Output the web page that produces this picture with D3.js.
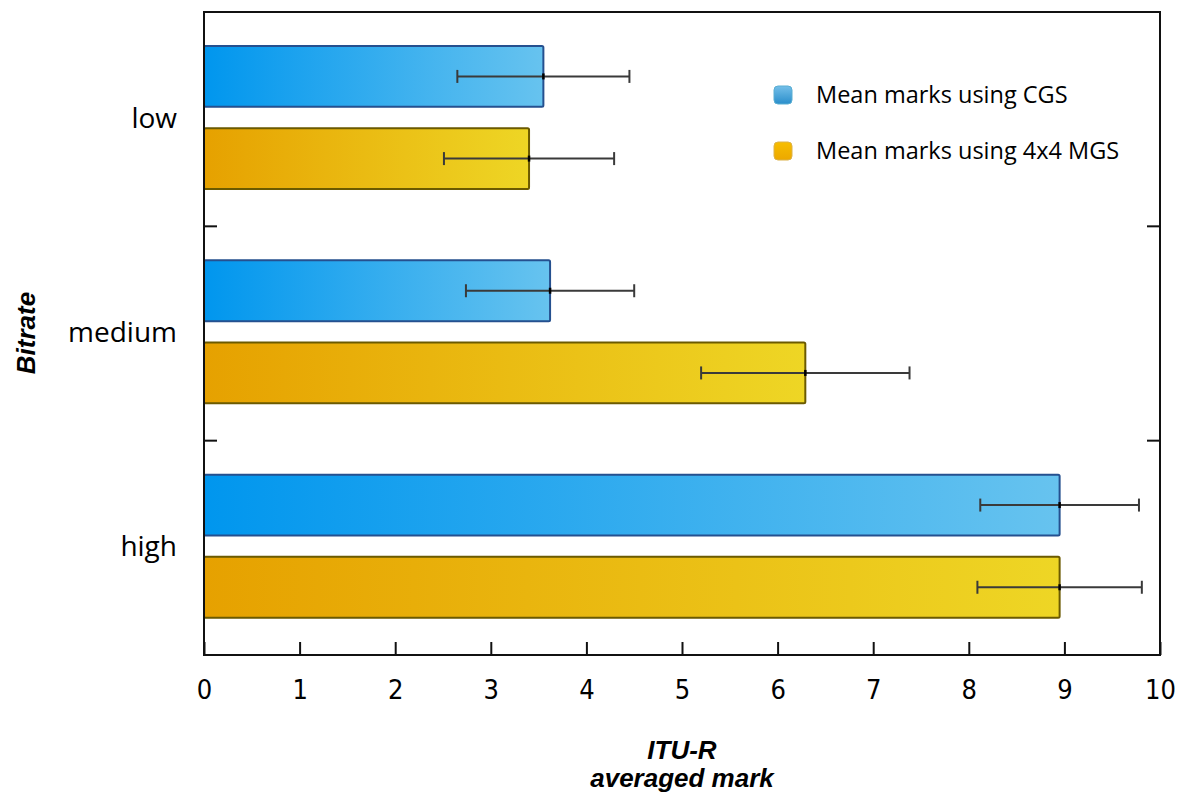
<!DOCTYPE html>
<html>
<head>
<meta charset="utf-8">
<script src="https://cdn.jsdelivr.net/npm/d3@7"></script>
<style>
  body { margin: 0; background: #fff; }
  svg { display: block; }
</style>
</head>
<body>
<svg id="chart" width="1190" height="808"></svg>
<script>
// data
const categories = ["low", "medium", "high"];
const seriesNames = ["Mean marks using CGS", "Mean marks using 4x4 MGS"];
const cgsMean = [3.55, 3.62, 8.95];
const cgsErr = [0.90, 0.88, 0.83];
const mgsMean = [3.40, 6.29, 8.95];
const mgsErr = [0.89, 1.09, 0.86];
const xTicks = [0, 1, 2, 3, 4, 5, 6, 7, 8, 9, 10];

const svg = d3.select("#chart");
const plotLeft = 204, plotRight = 1160, plotTop = 12, plotBottom = 655;

const x = d3.scaleLinear().domain([0, 10]).range([plotLeft, plotRight]);
const y = d3.scaleBand().domain(categories).range([plotTop, plotBottom]);
// offsets of the two bars inside a group
const ySub = d3.scaleBand().domain(["cgs", "mgs"]).range([34, 177]).paddingInner(0.26);

const rows = [];
categories.forEach((c, i) => {
  rows.push({cat: c, key: "cgs", mean: cgsMean[i], err: cgsErr[i]});
  rows.push({cat: c, key: "mgs", mean: mgsMean[i], err: mgsErr[i]});
});

const fills = {cgs: "url(#gBlue)", mgs: "url(#gYellow)"};
const strokes = {cgs: "#25508f", mgs: "#6b5a00"};

// gradients
const defs = svg.append("defs");
function grad(id, c0, c1, vertical) {
  const g = defs.append("linearGradient").attr("id", id)
    .attr("x1", 0).attr("y1", 0)
    .attr("x2", vertical ? 0 : 1).attr("y2", vertical ? 1 : 0);
  g.append("stop").attr("offset", "0%").attr("stop-color", c0);
  g.append("stop").attr("offset", "100%").attr("stop-color", c1);
}
grad("gBlue", "#0096ee", "#67c3ef", false);
grad("gYellow", "#e6a100", "#eed625", false);
grad("lBlue", "#74bfe9", "#2a8ecb", true);
grad("lYellow", "#f7be00", "#eca800", true);

// bars
svg.append("g").selectAll("rect")
  .data(rows)
  .join("rect")
  .attr("x", x(0))
  .attr("y", d => y(d.cat) + ySub(d.key))
  .attr("width", d => x(d.mean) - x(0))
  .attr("height", ySub.bandwidth())
  .attr("rx", 1.5)
  .attr("fill", d => fills[d.key])
  .attr("stroke", d => strokes[d.key])
  .attr("stroke-width", 2);

// error bars
const eb = svg.append("g").attr("stroke", "#3a3a3a").attr("stroke-width", 2);
rows.forEach(d => {
  const cy = y(d.cat) + ySub(d.key) + ySub.bandwidth() / 2;
  const x0 = x(d.mean - d.err), x1 = x(d.mean + d.err);
  eb.append("line").attr("x1", x0).attr("x2", x1).attr("y1", cy).attr("y2", cy);
  [x0, x1].forEach(xx => {
    eb.append("line").attr("x1", xx).attr("x2", xx).attr("y1", cy - 6.5).attr("y2", cy + 6.5);
  });
  eb.append("line").attr("x1", x(d.mean)).attr("x2", x(d.mean))
    .attr("y1", cy - 3).attr("y2", cy + 3).attr("stroke", "#000").attr("stroke-width", 2.5);
});

// frame
svg.append("rect")
  .attr("x", plotLeft).attr("y", plotTop)
  .attr("width", plotRight - plotLeft).attr("height", plotBottom - plotTop)
  .attr("fill", "none").attr("stroke", "#111").attr("stroke-width", 2);

// x axis with inward ticks
const xAxis = svg.append("g")
  .attr("transform", `translate(0,${plotBottom})`)
  .call(d3.axisBottom(x).tickValues(xTicks).tickSizeInner(-13).tickSizeOuter(0).tickPadding(25));
xAxis.select(".domain").remove();
xAxis.selectAll(".tick line").attr("stroke", "#111").attr("stroke-width", 2);
xAxis.selectAll(".tick text")
  .attr("font-family", "'Liberation Sans Narrow', 'DejaVu Sans Condensed', sans-serif")
  .attr("font-size", 27).attr("fill", "#000");

// group separators on left and right edges
const seps = categories.slice(1).map(c => y(c));
svg.append("g").selectAll("line").data(seps).join("line")
  .attr("x1", plotLeft).attr("x2", plotLeft + 13).attr("y1", d => d).attr("y2", d => d)
  .attr("stroke", "#111").attr("stroke-width", 2);
svg.append("g").selectAll("line").data(seps).join("line")
  .attr("x1", plotRight - 13).attr("x2", plotRight).attr("y1", d => d).attr("y2", d => d)
  .attr("stroke", "#111").attr("stroke-width", 2);

// category labels
svg.append("g").selectAll("text").data(categories).join("text")
  .attr("x", 177)
  .attr("y", d => y(d) + y.bandwidth() / 2)
  .attr("dy", "0.3em")
  .attr("text-anchor", "end")
  .attr("font-family", "'Open Sans', sans-serif")
  .attr("font-size", 28)
  .attr("fill", "#000")
  .text(d => d);

// axis titles
const titleFont = "'Liberation Sans', Arial, sans-serif";
svg.append("text")
  .attr("x", (plotLeft + plotRight) / 2).attr("y", 759)
  .attr("text-anchor", "middle")
  .attr("font-family", titleFont).attr("font-size", 26)
  .attr("font-weight", "bold").attr("font-style", "italic")
  .text("ITU-R");
svg.append("text")
  .attr("x", (plotLeft + plotRight) / 2).attr("y", 787)
  .attr("text-anchor", "middle")
  .attr("font-family", titleFont).attr("font-size", 26)
  .attr("font-weight", "bold").attr("font-style", "italic")
  .text("averaged mark");
svg.append("text")
  .attr("transform", "translate(35,333) rotate(-90)")
  .attr("text-anchor", "middle")
  .attr("font-family", titleFont).attr("font-size", 26)
  .attr("font-weight", "bold").attr("font-style", "italic")
  .text("Bitrate");

// legend
const legend = svg.append("g");
const legFill = ["url(#lBlue)", "url(#lYellow)"];
const legStroke = ["#5aaed2", "#dcb24a"];
seriesNames.forEach((name, i) => {
  const ly = 95 + i * 56;
  legend.append("rect")
    .attr("x", 774).attr("y", ly - 9)
    .attr("width", 18).attr("height", 18).attr("rx", 4)
    .attr("fill", legFill[i]).attr("stroke", legStroke[i]).attr("stroke-width", 1);
  legend.append("text")
    .attr("x", 816).attr("y", ly).attr("dy", "0.35em")
    .attr("font-family", "'Open Sans', sans-serif")
    .attr("font-size", 23.5).attr("fill", "#000")
    .text(name);
});
</script>
</body>
</html>
